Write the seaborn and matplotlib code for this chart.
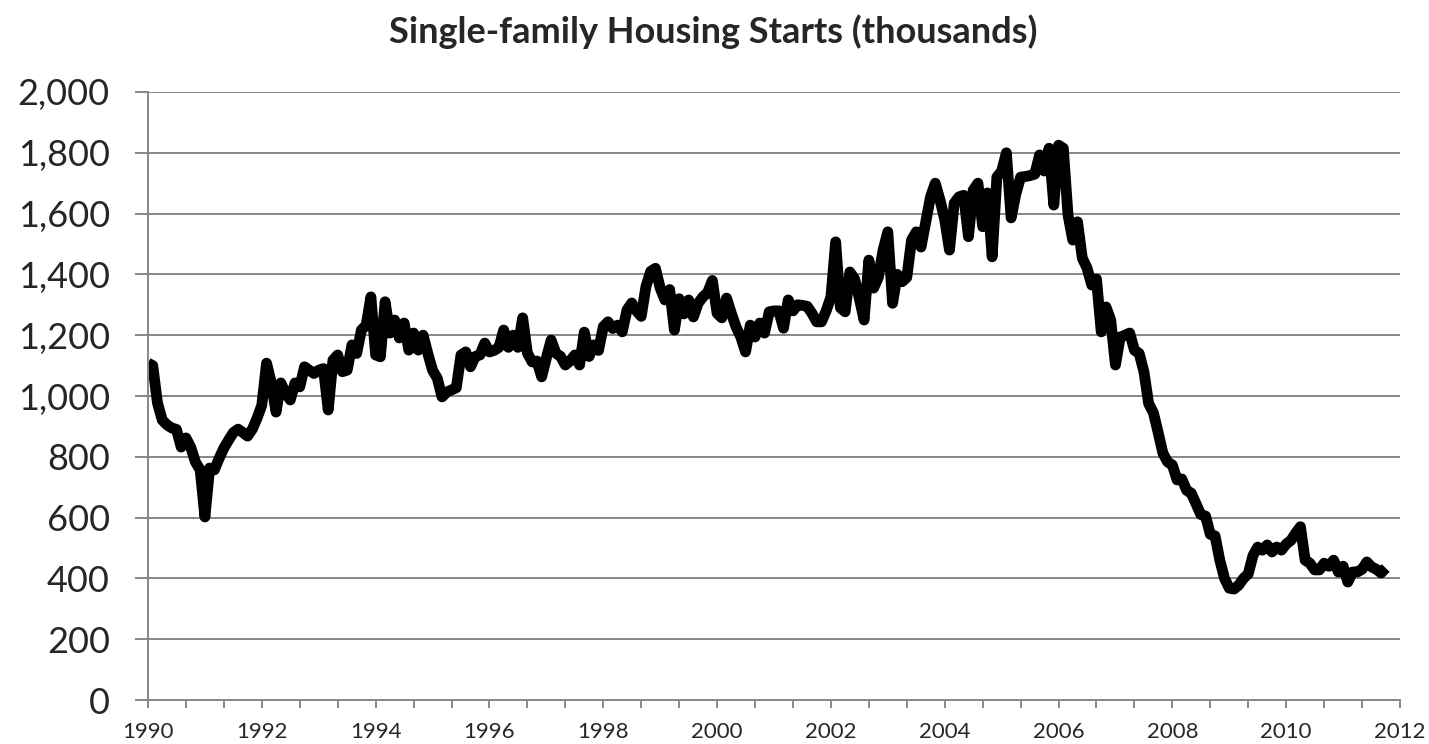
"""Single-family housing starts, monthly 1990-2011 (thousands, SAAR)."""
import matplotlib

matplotlib.use("Agg")
import matplotlib.pyplot as plt
import pandas as pd
import seaborn as sns
from matplotlib.ticker import FuncFormatter, MultipleLocator

TITLE = "Single-family Housing Starts (thousands)"
START_YEAR = 1990

# monthly values, one row per year
starts = [
    1108, 1100, 977, 921, 905, 895, 890, 832, 862, 832, 783, 757,        # 1990
    602, 763, 757, 795, 829, 855, 880, 891, 880, 868, 891, 927,          # 1991
    970, 1108, 1043, 947, 1043, 1010, 987, 1043, 1030, 1096, 1085, 1074,  # 1992
    1085, 1090, 954, 1118, 1135, 1080, 1085, 1168, 1140, 1217, 1233, 1326,  # 1993
    1135, 1129, 1310, 1207, 1250, 1191, 1240, 1151, 1207, 1151, 1200, 1140,  # 1994
    1085, 1058, 997, 1013, 1020, 1027, 1135, 1145, 1096, 1130, 1135, 1174,  # 1995
    1145, 1150, 1160, 1217, 1160, 1200, 1160, 1257, 1141, 1112, 1115, 1063,  # 1996
    1125, 1184, 1141, 1130, 1102, 1115, 1135, 1102, 1210, 1130, 1168, 1150,  # 1997
    1228, 1244, 1222, 1233, 1211, 1283, 1306, 1280, 1262, 1360, 1410, 1420,  # 1998
    1355, 1316, 1350, 1217, 1320, 1270, 1316, 1260, 1305, 1326, 1340, 1380,  # 1999
    1272, 1257, 1322, 1272, 1227, 1194, 1145, 1233, 1194, 1240, 1207, 1277,  # 2000
    1280, 1280, 1223, 1316, 1280, 1300, 1298, 1295, 1272, 1244, 1244, 1280,  # 2001
    1326, 1507, 1290, 1277, 1408, 1385, 1320, 1250, 1447, 1355, 1390, 1480,  # 2002
    1540, 1305, 1400, 1376, 1390, 1513, 1540, 1490, 1573, 1655, 1700, 1645,  # 2003
    1580, 1480, 1634, 1655, 1660, 1524, 1677, 1700, 1557, 1668, 1458, 1720,  # 2004
    1740, 1800, 1586, 1665, 1720, 1722, 1725, 1730, 1793, 1740, 1815, 1628,  # 2005
    1825, 1815, 1595, 1513, 1573, 1454, 1421, 1365, 1385, 1211, 1293, 1250,  # 2006
    1102, 1194, 1200, 1207, 1151, 1140, 1080, 975, 945, 880, 812, 783,    # 2007
    773, 724, 727, 690, 680, 645, 610, 605, 545, 540, 460, 400,           # 2008
    368, 365, 378, 400, 415, 475, 503, 493, 510, 487, 503, 493,           # 2009
    513, 525, 549, 570, 460, 450, 428, 428, 450, 440, 460, 421,           # 2010
    440, 388, 421, 421, 430, 454, 438, 430, 418, 434,                     # 2011 (Jan-Oct)
]
tick_years = list(range(1990, 2013, 2))
y_ticks = list(range(0, 2001, 200))

df = pd.DataFrame({"month": range(len(starts)), "starts": starts})

sns.set_style("white")
plt.rcParams["font.family"] = ["Lato", "DejaVu Sans"]

GRID = "#878787"

fig = plt.figure(figsize=(14.29, 7.44), dpi=100)
ax = fig.add_axes([148 / 1429, 1 - 700 / 744, 1252 / 1429, 608 / 744])

sns.lineplot(data=df, x="month", y="starts", ax=ax, color="black", lw=7.8,
             solid_joinstyle="round", solid_capstyle="butt")

n_months = (tick_years[-1] - START_YEAR) * 12
ax.set_xlim(0, n_months)
ax.set_ylim(y_ticks[0], y_ticks[-1])

ax.set_xticks([(y - START_YEAR) * 12 for y in tick_years])
ax.set_xticklabels([str(y) for y in tick_years])
ax.xaxis.set_minor_locator(MultipleLocator(8))
ax.set_yticks(y_ticks)
ax.yaxis.set_major_formatter(FuncFormatter(lambda v, _: f"{int(v):,}"))

ax.grid(axis="y", color=GRID, lw=1.4)
ax.set_axisbelow(True)
for side in ("top", "right"):
    ax.spines[side].set_visible(False)
for side in ("left", "bottom"):
    ax.spines[side].set_color(GRID)
    ax.spines[side].set_linewidth(1.4)

ax.tick_params(axis="y", which="major", length=9.5, width=1.4, color=GRID,
               direction="out", labelsize=26, pad=18, left=True)
ax.tick_params(axis="x", which="both", length=6, width=1.4, color=GRID,
               direction="out", labelsize=16, pad=10, bottom=True)
ax.set_xlabel("")
ax.set_ylabel("")

fig.text(713 / 1429, 1 - 32 / 744, TITLE, ha="center", va="center",
         fontsize=26, fontweight="bold")

fig.savefig("out.png", dpi=100)
plt.close(fig)
